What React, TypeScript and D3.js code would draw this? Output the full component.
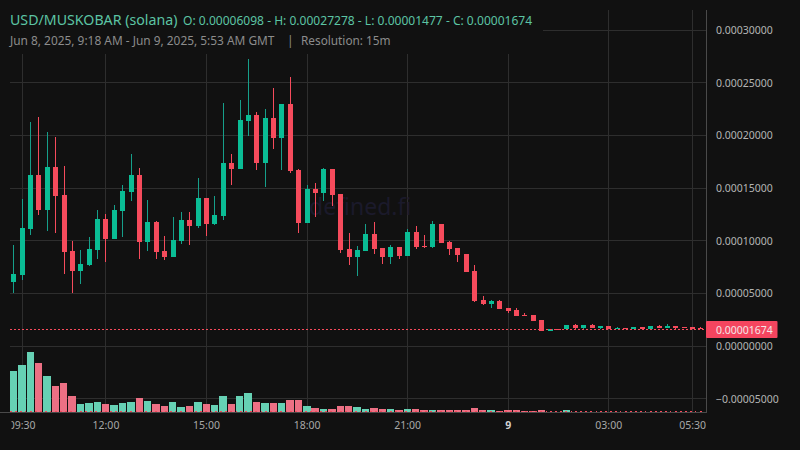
import React from "react";
import * as d3 from "d3";

// Prices in units of 1e-8
const opens = [6098,6769,11135,16261,12939,17021,14363,9047,7148,7718,9142,12085,10186,12844,14648,16261,9901,11800,9047,8477,9996,11990,11420,14078,11610,12369,17400,16831,21388,21957,17400,21672,19774,23002,16736,11705,14933,14553,16831,14458,9237,8477,9047,10661,9332,8477,9427,8572,10851,9521,9427,11610,9901,9332,8762,7148,4395,4016,4300,3636,3446,2971,2971,2497,1500,1642,1595,2022,1737,2022,1737,1927,1642,1737,1595,1832,1642,1927,1737,1927,1832,1832,1700];
const highs = [9616,13983,21293,21768,20344,19869,17116,9996,9142,10376,12939,12559,13414,15312,18255,16926,13888,11895,10471,12274,12749,12749,15977,14078,14268,23097,18255,23381,27278,22242,22527,24520,23002,25565,16831,15312,15502,16926,16831,14458,10756,9521,11610,11800,9332,9616,9427,11135,11420,10566,11895,11610,9996,9332,8762,7718,4775,4395,4395,3636,3636,3161,2971,2497,1642,1642,2022,2117,2022,2117,1927,1927,1832,1737,1832,1832,1927,2022,2117,1927,1832,1832,1832];
const lows = [5031,6294,10566,12464,10945,10756,6863,5060,5914,7623,8287,8003,10186,10376,13793,8287,9047,8287,8192,8477,9711,9616,11230,10471,11515,11990,15312,16831,19964,16736,15122,18730,16736,16451,10756,11705,12274,13793,13319,8857,7718,6674,9047,8762,7813,7813,8287,8572,9237,9332,9332,9806,8667,8003,7053,4205,3921,3636,3541,3161,2876,2876,2402,1477,1477,1510,1595,1642,1642,1737,1642,1595,1595,1595,1595,1642,1642,1737,1737,1642,1737,1595,1642];
const closes = [6863,11230,16261,12939,17021,14268,8952,7148,7813,9237,12085,10186,12939,14743,16261,9901,11800,8952,8477,10091,11990,11420,14078,11610,12464,17400,16831,21483,21957,17400,21672,19774,23002,16641,11705,14933,14553,16831,14363,9142,8477,9142,10661,9237,8477,9427,8572,10851,9427,9427,11610,9806,9237,8667,7053,4300,4016,4300,3541,3351,2876,2876,2402,1500,1642,1547,2022,1737,2022,1737,1927,1595,1737,1595,1832,1642,1927,1737,1927,1737,1737,1595,1674];
const volumes = [41.3,47.3,60.3,49.3,36.3,26.3,29.3,16.3,8.3,9.3,10.3,8.3,7.3,9.3,10.3,14.3,11.3,8.3,6.3,10.3,5.3,6.3,10.3,8.3,7.3,16.3,8.3,16.3,19.3,10.3,9.3,9.3,9.3,12.3,12.3,6.3,4.3,3.3,3.3,6.3,6.3,5.3,3.3,4.3,3.3,3.3,2.3,3.3,3.3,2.3,2.3,2.3,2.3,2.3,2.3,4.3,2.3,2.3,1.3,2.3,2.3,1.3,1.3,2.3,0.8,0.8,2.3,0.8,0.8,0.8,0.8,0.8,0.8,0.8,0.8,0.8,0.8,0.8,0.8,0.8,0.8,0.8,0.8];

const priceTicks = [30000,25000,20000,15000,10000,5000,0,-5000];
const priceLabels = ["0.00030000","0.00025000","0.00020000","0.00015000","0.00010000","0.00005000","0.00000000","\u22120.00005000"];
const timeTickBars = [1,11,23,35,47,59,71,81];
const timeTickLabels = ["09:30","12:00","15:00","18:00","21:00","9","03:00","05:30"];
const lastPrice = 1674;
const lastPriceLabel = "0.00001674";

const BG = "#111111";
const UP = "#0abd95";
const UP_WICK = "#169f8a";
const DOWN = "#f64b5c";
const UP_VOL = "#66d1b4";
const DOWN_VOL = "#ec7084";
const GRID = "#2e2e2e";
const FONT = "'Noto Sans', sans-serif";

export default function App() {
  const x = d3.scaleLinear().domain([0, 82]).range([13.8, 13.8 + 82 * 8.38]);
  const y = d3.scaleLinear().domain([0, 30000]).range([346.3, 30.3]);
  const v = d3.scaleLinear().domain([0, 60.3]).range([412.3, 352]);
  const plotR = 706;
  const crisp = "crispEdges" as const;
  const lastY = Math.round(y(lastPrice) + 0.3);
  const volLeft = (i: number) => Math.round(x(i) - 4);
  const volRight = (i: number) => Math.round(x(i) + 3.4);
  return (
    <svg width={800} height={450} style={{ position: "fixed", left: 0, top: 0, background: BG }} fontFamily={FONT}>
      <defs>
        <clipPath id="plot"><rect x={10} y={0} width={plotR - 10} height={450} /></clipPath>
        <clipPath id="timeAxis"><rect x={11.5} y={412} width={plotR - 11.5} height={38} /></clipPath>
        <clipPath id="volBars">
          {volumes.map((d, i) => (
            <rect key={i} x={volLeft(i)} y={v(d) - 0.5} width={volRight(i) - volLeft(i)} height={v(0) - v(d) + 0.5} />
          ))}
        </clipPath>
      </defs>
      <rect width={800} height={450} fill={BG} />
      <g shapeRendering={crisp}>
        {timeTickBars.map((b) => (
          <rect key={b} x={Math.floor(x(b))} y={10} width={1} height={402} fill={GRID} />
        ))}
        {priceTicks.map((t) => (
          <rect key={t} x={10} y={Math.floor(y(t))} width={plotR - 10} height={1} fill={GRID} />
        ))}
      </g>
      <text x={309} y={215} fontSize={23} fill="#1b1a2b">defined.fi</text>
      <rect x={0} y={0} width={543} height={54} fill={BG} />
      <g clipPath="url(#plot)" shapeRendering={crisp}>
        {volumes.map((d, i) => (
          <rect key={i} x={volLeft(i)} y={v(d)} width={volRight(i) - volLeft(i)} height={v(0) - v(d)} fill={closes[i] >= opens[i] ? UP_VOL : DOWN_VOL} />
        ))}
        {opens.map((o, i) => {
          const c = closes[i];
          const up = c >= o;
          const px = Math.floor(x(i));
          const top = y(Math.max(o, c));
          const h = Math.max(1, y(Math.min(o, c)) - top);
          return (
            <g key={i}>
              <rect x={px} y={y(highs[i])} width={1} height={y(lows[i]) - y(highs[i])} fill={up ? UP_WICK : DOWN} />
              <rect x={px - 2} y={top} width={5} height={h} fill={up ? UP : DOWN} />
            </g>
          );
        })}
      </g>
      <line x1={10} x2={plotR} y1={lastY + 0.5} y2={lastY + 0.5} stroke={DOWN} strokeWidth={1} strokeDasharray="2 2" shapeRendering={crisp} />
      <g clipPath="url(#plot)">
        <g clipPath="url(#volBars)">
          <line x1={10} x2={plotR} y1={411.5} y2={411.5} stroke={DOWN} strokeWidth={1} strokeDasharray="2 3" shapeRendering={crisp} />
        </g>
      </g>
      <g shapeRendering={crisp}>
        <rect x={0} y={412} width={plotR} height={1} fill="#4a4a4a" />
        <rect x={plotR} y={10} width={1} height={403} fill="#4a4a4a" />
      </g>
      <g fontSize={10.5} fill="#b4b4b4">
        {priceTicks.map((t, i) => (
          <text key={t} x={716} y={y(t) + 3.8}>{priceLabels[i]}</text>
        ))}
      </g>
      <rect x={706} y={321} width={71.5} height={17} rx={1} fill="#f5455f" />
      <text x={716} y={333.6} fontSize={10.5} fill="#f4e6e8">{lastPriceLabel}</text>
      <g clipPath="url(#timeAxis)" fontSize={10.5} textAnchor="middle">
        {timeTickBars.map((b, i) => (
          <text key={b} x={x(b)} y={429} fontWeight={timeTickLabels[i] === "9" ? 700 : 400} fill={timeTickLabels[i] === "9" ? "#d0d0d0" : "#a8a8a8"}>{timeTickLabels[i]}</text>
        ))}
      </g>
      <text x={10} y={25} fontSize={14.2} fill="#5cc4a4">USD/MUSKOBAR (solana)</text>
      <text x={183} y={25} fontSize={12.05} fill="#5cc4a4">O: 0.00006098 - H: 0.00027278 - L: 0.00001477 - C: 0.00001674</text>
      <text x={10} y={45} fontSize={11.9} fill="#8c8c8c">Jun 8, 2025, 9:18 AM - Jun 9, 2025, 5:53 AM GMT</text>
      <text x={287} y={45} fontSize={12} fill="#8c8c8c">|</text>
      <text x={301} y={45} fontSize={11.8} fill="#8c8c8c">Resolution: 15m</text>
    </svg>
  );
}
